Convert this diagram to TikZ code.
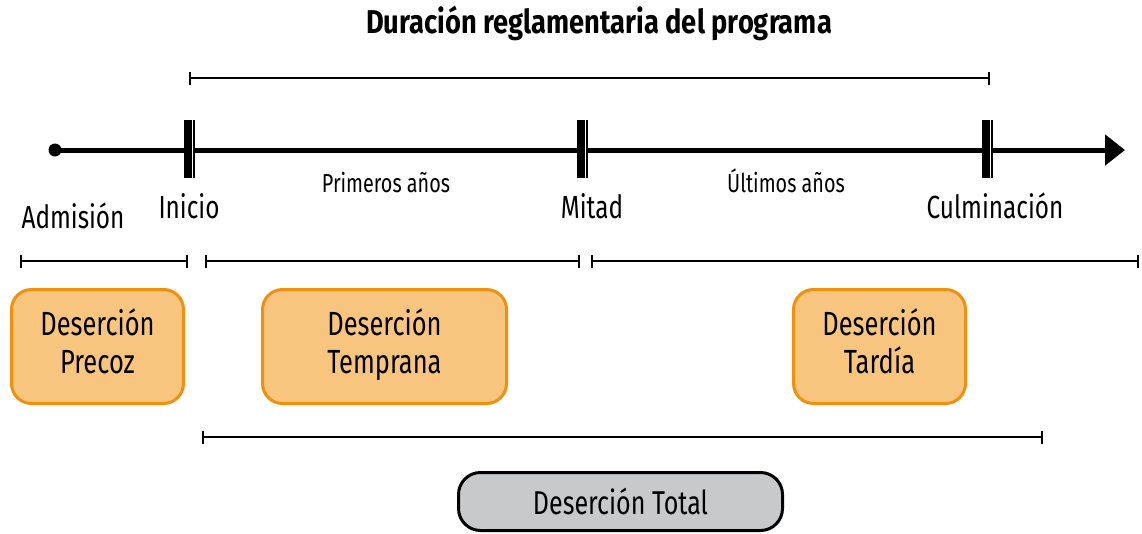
\documentclass[tikz,border=0pt]{standalone}
\usepackage{fontspec}
\setmainfont{Fira Sans}[FakeStretch=0.76]
\newfontfamily\titlefont{Fira Sans}[FakeStretch=0.827]
\usetikzlibrary{arrows.meta}
\definecolor{ambar}{HTML}{F8C57F}
\definecolor{naranja}{HTML}{F0900F}
\definecolor{gris}{HTML}{C8C9CB}
\begin{document}
\begin{tikzpicture}[x=1pt,y=-1pt]
\useasboundingbox (0,0) rectangle (1142,533);

% styles
\tikzstyle{hito}=[anchor=base,inner sep=0pt,font=\fontsize{32}{34}\selectfont];
\tikzstyle{periodo}=[anchor=base,inner sep=0pt,font=\fontsize{26}{28}\selectfont];
\tikzstyle{fase}=[rectangle,rounded corners=20pt,draw=naranja,line width=3pt,fill=ambar,
  minimum height=114pt,align=center,inner sep=0pt,font=\fontsize{33.5}{38}\selectfont];
\tikzstyle{tramo}=[line width=2.2pt,{Bar[width=13pt,line width=2.2pt]}-{Bar[width=13pt,line width=2.2pt]}];

% title
\path (599,33) node[anchor=base,inner sep=0pt,font=\titlefont\bfseries\fontsize{33}{35}\selectfont] (Titulo) {Duración reglamentaria del programa};

% timeline
\path (55,150) node[circle,fill,inner sep=0pt,minimum size=13pt] (Origen) {};
\coordinate (Fin) at (1125,150);
\draw[line width=5pt,-{Triangle[length=20pt,width=30pt]}] (Origen.center) -- (Fin);
\foreach \x in {184,577,982} {
  \fill (\x,120) rectangle ++(7.5,58);
  \fill[white] (\x+7.5,120) rectangle ++(1,58);
  \fill (\x+8.5,120) rectangle ++(2,58);
}

% labels
\path (73,228)  node[hito] (Admision) {Admisión};
\path (189,218) node[hito] (Inicio) {Inicio};
\path (592,218) node[hito] (Mitad) {Mitad};
\path (995,218) node[hito] (Culminacion) {Culminación};
\path (386,192) node[periodo] (Primeros) {Primeros años};
\path (786,192) node[periodo] (Ultimos) {Últimos años};

% spans
\coordinate (D1) at (189,78);  \coordinate (D2) at (990,78);
\coordinate (P1) at (20,261);  \coordinate (P2) at (188,261);
\coordinate (T1) at (205,261); \coordinate (T2) at (580,261);
\coordinate (L1) at (591,261); \coordinate (L2) at (1139,261);
\coordinate (B1) at (202,437); \coordinate (B2) at (1043,437);
\draw[tramo] (D1) -- (D2);
\draw[tramo] (P1) -- (P2);
\draw[tramo] (T1) -- (T2);
\draw[tramo] (L1) -- (L2);
\draw[tramo] (B1) -- (B2);

% boxes
\path (97.5,346.5) node[fase,minimum width=172pt] (Precoz) {Deserción\\Precoz\strut};
\path (384.5,346.5) node[fase,minimum width=244pt] (Temprana) {Deserción\\Temprana\strut};
\path (879.5,346.5) node[fase,minimum width=172pt] (Tardia) {Deserción\\Tardía\strut};
\path (620.5,501.5) node[fase,draw=black,fill=gris,rounded corners=22pt,minimum width=324pt,minimum height=58pt,font=\fontsize{33}{35}\selectfont] (Total) {Deserción Total};

\end{tikzpicture}
\end{document}
